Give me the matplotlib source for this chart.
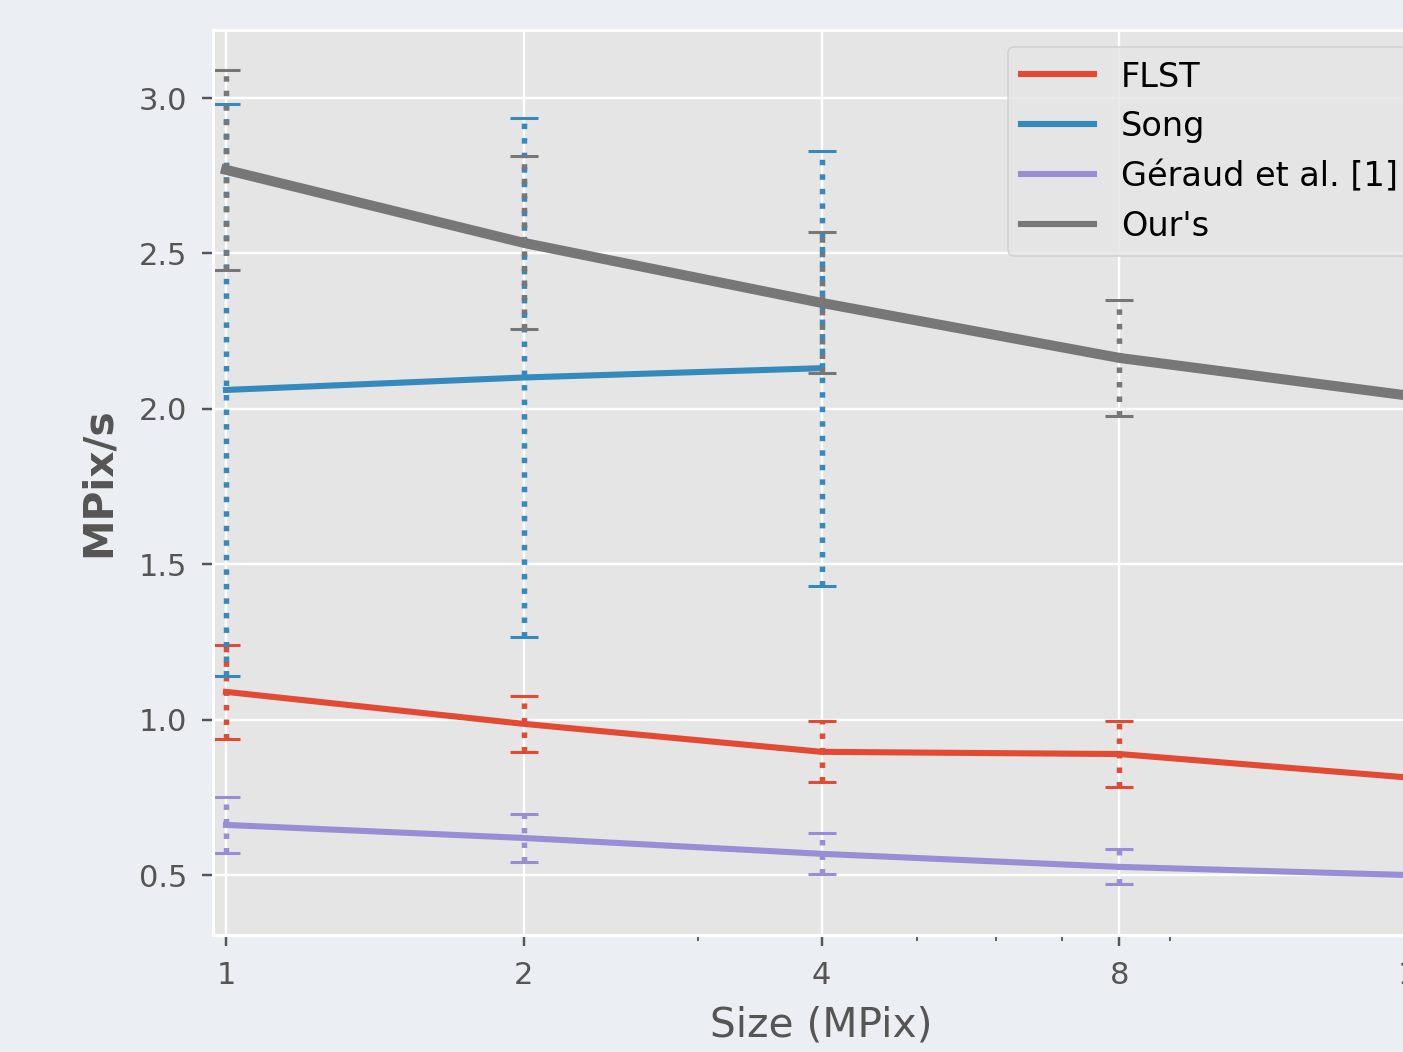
import numpy as np
import matplotlib
matplotlib.use('Agg')
import matplotlib.pyplot as plt
from matplotlib.ticker import FixedLocator, FixedFormatter, LogLocator, NullFormatter

# sizes in MPix
sizes = [1, 2, 4, 8, 16]
song_sizes = [1, 2, 4]

# throughput (MPix/s) and error half-widths
flst = [1.089, 0.986, 0.896, 0.889, 0.811]
flst_err = [0.152, 0.090, 0.098, 0.106, 0.10]
song = [2.06, 2.10, 2.13]
song_err = [0.92, 0.835, 0.70]
geraud = [0.661, 0.619, 0.568, 0.526, 0.499]
geraud_err = [0.090, 0.078, 0.066, 0.056, 0.05]
ours = [2.768, 2.533, 2.340, 2.163, 2.038]
ours_err = [0.322, 0.278, 0.227, 0.187, 0.16]

plt.style.use('ggplot')
fig = plt.figure(figsize=(6.4, 4.8), dpi=219.25, facecolor='#ebeef2')
ax = fig.add_axes([0.1518, 0.1112, 0.8674, 0.8603])

series = [
    (sizes, flst, flst_err, 'FLST', '#E24A33', 2.0),
    (song_sizes, song, song_err, 'Song', '#348ABD', 2.0),
    (sizes, geraud, geraud_err, 'Géraud et al. [1]', '#988ED5', 2.0),
    (sizes, ours, ours_err, "Our's", '#777777', 3.3),
]

for x, y, e, name, c, lw in series:
    ax.plot(x, y, color=c, lw=lw, label=name)
    eb = ax.errorbar(x, y, yerr=e, fmt='none', ecolor=c, elinewidth=1.8, capsize=4.5)
    eb[-1][0].set_linestyle(':')

ax.set_xscale('log')
ax.xaxis.set_major_locator(FixedLocator(sizes))
ax.xaxis.set_major_formatter(FixedFormatter([str(s) for s in sizes]))
ax.xaxis.set_minor_locator(LogLocator(base=10, subs=np.arange(2, 10)))
ax.xaxis.set_minor_formatter(NullFormatter())
ax.set_xlim(2 ** (-13 / 298), 2 ** (4 + 13 / 298))
ax.set_ylim(0.307, 3.219)
ax.set_yticks([0.5, 1.0, 1.5, 2.0, 2.5, 3.0])
ax.tick_params(axis='y', pad=5)
ax.tick_params(axis='x', pad=5)

ax.set_xlabel('Size (MPix)', fontsize=13.4, labelpad=5)
ax.set_ylabel('MPix/s', fontsize=13.4, fontweight='bold', labelpad=6.5)

leg = ax.legend(loc='upper left', bbox_to_anchor=(0.653, 0.981), borderaxespad=0,
                fontsize=11, handlelength=2.18)
for ln in leg.get_lines():
    ln.set_linewidth(2.0)

fig.savefig('out.png', dpi=219.25, facecolor=fig.get_facecolor())
